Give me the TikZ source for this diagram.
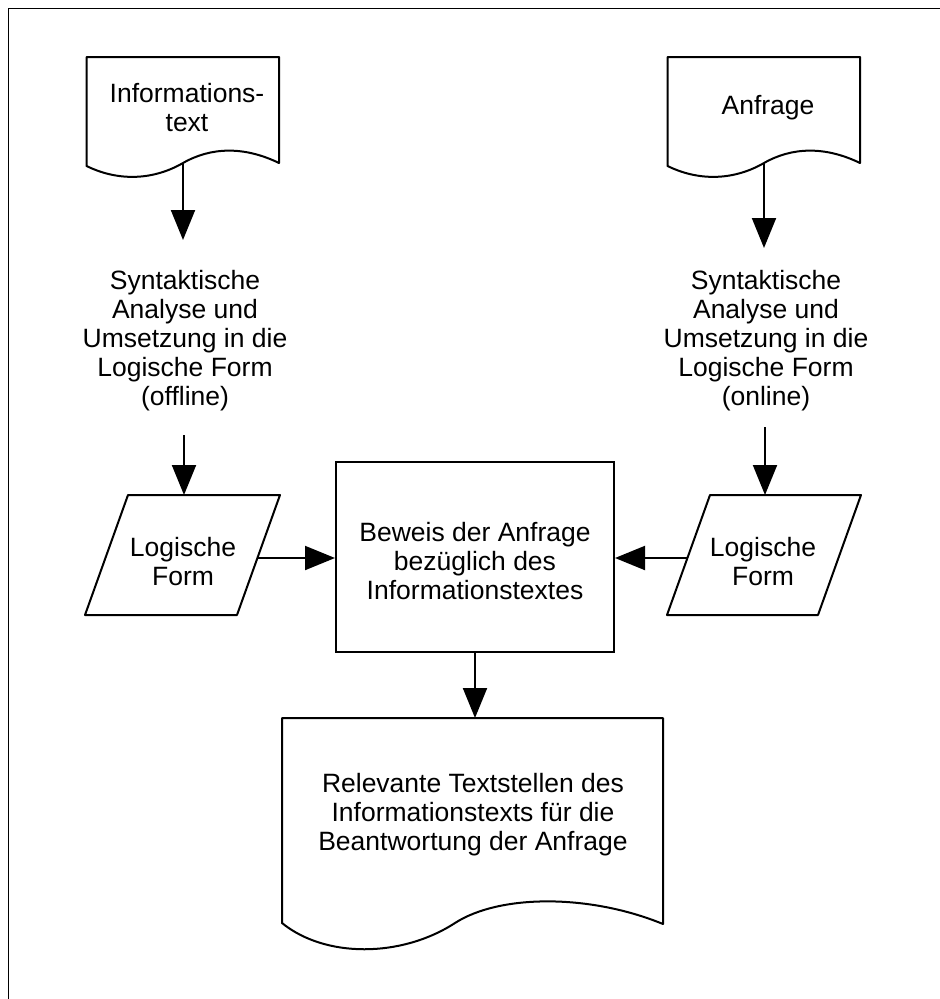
\documentclass[tikz,border=0pt]{standalone}
\usepackage{fontspec}
\setmainfont{Liberation Sans}
\usetikzlibrary{arrows.meta}
\begin{document}
\begin{tikzpicture}[x=1pt,y=-1pt,
  shape line/.style={line width=2pt, line join=round},
  txt/.style={align=center, inner sep=0pt, font=\fontsize{26.5}{29}\selectfont},
  arr/.style={line width=2pt, -{Triangle[length=30pt,width=24pt]}},
  proc/.style={draw, line width=2pt, minimum width=278pt, minimum height=190pt, inner sep=0pt}
]
\useasboundingbox (0,0) rectangle (940,999);
% outer frame (only top and left edges visible)
\draw[line width=1pt] (940,8) -- (8,8) -- (8,999);

% document 1: Informationstext
\draw[shape line] (86.5,166) -- (86.5,57) -- (279,57) -- (279,163)
  .. controls (244,146) and (211,147) .. (183,163)
  .. controls (150,182) and (115,180) .. (86.5,166) -- cycle;
\node[txt] (doc1) at (187,108) {Informations-\\text};
\coordinate (doc1out) at (183,163);

% document 2: Anfrage
\begin{scope}[xshift=581pt]
\draw[shape line] (86.5,166) -- (86.5,57) -- (279,57) -- (279,163)
  .. controls (244,146) and (211,147) .. (183,163)
  .. controls (150,182) and (115,180) .. (86.5,166) -- cycle;
\end{scope}
\node[txt] (doc2) at (768,108) {Anfrage};
\coordinate (doc2out) at (764,163);

% analysis steps
\node[txt] (syn1) at (185,341) {Syntaktische\\Analyse und\\Umsetzung in die\\Logische Form\\(offline)};
\node[txt] (syn2) at (766,341) {Syntaktische\\Analyse und\\Umsetzung in die\\Logische Form\\(online)};
\coordinate (syn1top) at (183,240);
\coordinate (syn2top) at (764,248);
\coordinate (syn1bot) at (184,435);
\coordinate (syn2bot) at (765,427);

% parallelograms
\draw[shape line] (128,495) -- (280,495) -- (237,615) -- (85,615) -- cycle;
\node[txt] (lf1) at (183,562) {Logische\\Form};
\coordinate (lf1top) at (184,495);
\coordinate (lf1out) at (257.5,558);
\draw[shape line] (710,495) -- (861,495) -- (818,615) -- (667,615) -- cycle;
\node[txt] (lf2) at (763,562) {Logische\\Form};
\coordinate (lf2top) at (765,495);
\coordinate (lf2out) at (687.5,558);

% central process
\node[proc] (proof) at (475,557) {};
\node[txt] (prooftxt) at (475,561) {Beweis der Anfrage\\bezüglich des\\Informationstextes};

% result document
\draw[shape line] (282,923) -- (282,718) -- (663,718) -- (663,924)
  .. controls (590,894) and (500,894) .. (455,923)
  .. controls (401,958) and (325,958) .. (282,923) -- cycle;
\node[txt] (res) at (473,815) {Relevante Textstellen des\\Informationstexts für die\\Beantwortung der Anfrage};
\coordinate (restop) at (475,718);

% connectors
\draw[arr] (doc1out) -- (syn1top);
\draw[arr] (doc2out) -- (syn2top);
\draw[arr] (syn1bot) -- (lf1top);
\draw[arr] (syn2bot) -- (lf2top);
\draw[arr] (lf1out) -- (proof.west |- lf1out);
\draw[arr] (lf2out) -- (proof.east |- lf2out);
\draw[arr] (proof.south) -- (restop);
\end{tikzpicture}
\end{document}
